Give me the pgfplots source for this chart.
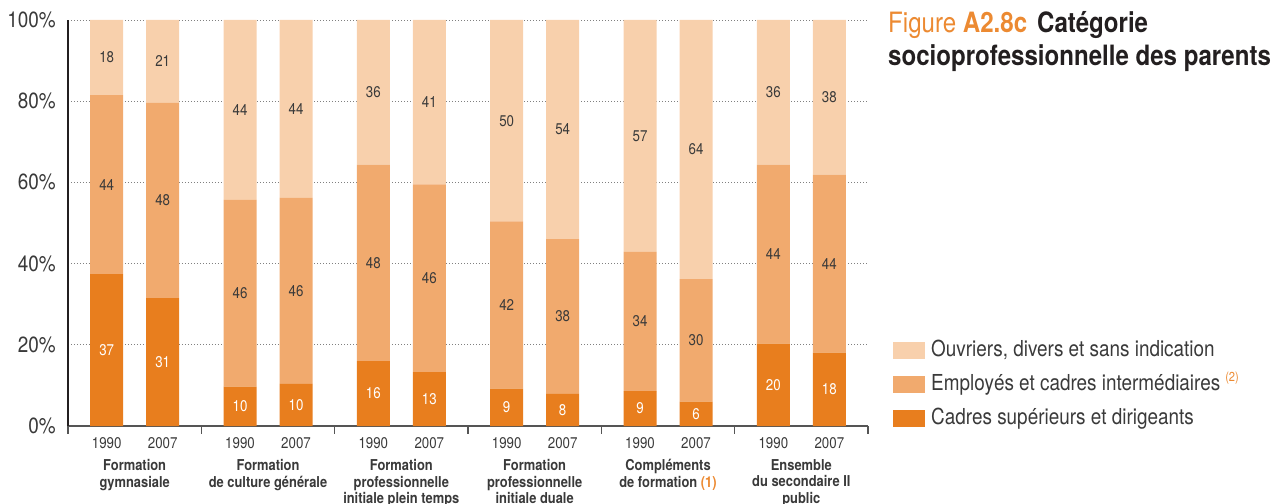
\documentclass[border=0pt]{standalone}
\usepackage{fontspec}
\setmainfont{TeX Gyre Heros}[FakeStretch=0.86]
\usepackage{pgfplots}
\usepackage{pgfplotstable}
\pgfplotsset{compat=1.18}
\definecolor{cadres}{HTML}{E87E1E}
\definecolor{employes}{HTML}{F1AA6E}
\definecolor{ouvriers}{HTML}{F8D0AC}
\definecolor{txt}{HTML}{3A3A3A}
\definecolor{ttl}{HTML}{231F20}
\definecolor{figorange}{HTML}{EC8A32}
\definecolor{axgray}{HTML}{555555}

\pgfplotstableread{
x C E O
0.29 37.4 44.1 18.5
0.71 31.5 48.1 20.4
1.29 9.7 46.0 44.3
1.71 10.4 45.8 43.8
2.29 16.0 48.4 35.6
2.71 13.3 46.2 40.5
3.29 9.2 41.2 49.6
3.71 7.9 38.1 54.0
4.29 8.6 34.3 57.1
4.71 6.0 30.2 63.8
5.29 20.3 44.1 35.6
5.71 18.1 43.8 38.1
}\bars

\pgfplotstableread{
x yC lC yE lE yO lO
0.29 18.7 37 59.45 44 90.75 18
0.71 15.75 31 55.55 48 89.8 21
1.29 4.85 10 32.7 46 77.85 44
1.71 5.2 10 33.3 46 78.1 44
2.29 8.0 16 40.2 48 82.2 36
2.71 6.65 13 36.4 46 79.75 41
3.29 4.6 9 29.8 42 75.2 50
3.71 3.95 8 26.95 38 73.0 54
4.29 4.3 9 25.75 34 71.45 57
4.71 3.0 6 21.1 30 68.1 64
5.29 10.15 20 42.35 44 82.2 36
5.71 9.05 18 40.0 44 80.95 38
}\labs

\begin{document}
\begin{tikzpicture}
\pgfplotsset{base/.style={at={(0,0)}, anchor=south west, scale only axis,
  width=800bp, height=406bp, xmin=0, xmax=6, ymin=0, ymax=100, clip=false},
  sq/.style={legend image code/.code={\fill[##1] (0bp,-5.5bp) rectangle (32bp,11.5bp);}}}
\begin{axis}[base, ybar stacked, bar width=33bp,
  axis x line*=bottom, axis y line*=left,
  x axis line style={draw=axgray, line width=1.3bp},
  y axis line style={draw=ttl, line width=1.3bp},
  ytick={0,20,40,60,80,100},
  yticklabels={0\%,20\%,40\%,60\%,80\%,100\%},
  yticklabel style={anchor=east, inner sep=0pt, xshift=-4bp,
    font=\fontsize{22bp}{24bp}\selectfont, text=txt},
  ytick style={draw=none},
  ymajorgrids,
  grid style={draw=gray, line width=0.9bp, dash pattern=on 1bp off 2bp},
  xtick={0,1,2,3,4,5,6}, xticklabels={},
  xtick style={draw=axgray, line width=1.3bp},
  tick align=outside, major tick length=8bp,
  legend style={draw=none, fill=none, inner sep=0pt,
    at={(axis description cs:1.03125,0.2216)}, anchor=north west,
    column sep=6bp, row sep=0pt,
    font=\fontsize{22bp}{24bp}\selectfont, text=txt,
    nodes={inner sep=0pt, text height=20bp, text depth=14bp}},
  legend cell align=left, reverse legend,
  title={\textcolor{figorange}{Figure \textbf{A2.8c}}\hspace{10bp}\textbf{Catégorie}\\\textbf{socioprofessionnelle des parents}},
  title style={at={(axis description cs:1.025,1.008)}, anchor=north west,
    align=left, inner sep=0pt, font=\fontsize{28bp}{33bp}\selectfont, text=ttl},
]
\addplot[fill=cadres, draw=none, sq] table[x=x, y=C]{\bars};
\addlegendentry{Cadres supérieurs et dirigeants}
\addplot[fill=employes, draw=none, sq] table[x=x, y=E]{\bars};
\addlegendentry{Employés et cadres intermédiaires\hspace{5bp}\raisebox{0.75ex}{\fontsize{13bp}{13bp}\selectfont\textcolor{figorange}{(2)}}}
\addplot[fill=ouvriers, draw=none, sq] table[x=x, y=O]{\bars};
\addlegendentry{Ouvriers, divers et sans indication}
\end{axis}

\begin{axis}[base, axis line style={draw=none}, tick style={draw=none},
  major tick length=0pt, ytick=\empty,
  xtick={0.29,0.71,1.29,1.71,2.29,2.71,3.29,3.71,4.29,4.71,5.29,5.71},
  xticklabels={1990,2007,1990,2007,1990,2007,1990,2007,1990,2007,1990,2007},
  xticklabel style={anchor=north, inner sep=0pt, yshift=-11bp,
    font=\fontsize{15.5bp}{17bp}\selectfont, text=txt},
  nodes near coords, point meta=explicit symbolic,
  every node near coord/.append style={anchor=center, inner sep=0pt,
    font=\fontsize{15.5bp}{17bp}\selectfont, text=txt}]
\addplot[draw=none, mark=none, every node near coord/.append style={text=white}] table[x=x, y=yC, meta=lC]{\labs};
\addplot[draw=none, mark=none] table[x=x, y=yE, meta=lE]{\labs};
\addplot[draw=none, mark=none] table[x=x, y=yO, meta=lO]{\labs};
\end{axis}

\begin{axis}[base, axis line style={draw=none}, tick style={draw=none},
  major tick length=0pt, ytick=\empty,
  xtick={0.5,1.5,2.5,3.5,4.5,5.5},
  xticklabels={{Formation\\gymnasiale},{Formation\\de culture générale},{Formation\\professionnelle\\initiale plein temps},{Formation\\professionnelle\\initiale duale},{Compléments\\de formation \textcolor{figorange}{(1)}},{Ensemble\\du secondaire II\\public}},
  xticklabel style={anchor=north, inner sep=0pt, yshift=-33bp, align=center,
    font=\bfseries\fontsize{15bp}{16.7bp}\selectfont, text=txt}]
\end{axis}

\pgfresetboundingbox
\path[use as bounding box] (-68bp,-78bp) rectangle (1217bp,426bp);
\end{tikzpicture}
\end{document}
